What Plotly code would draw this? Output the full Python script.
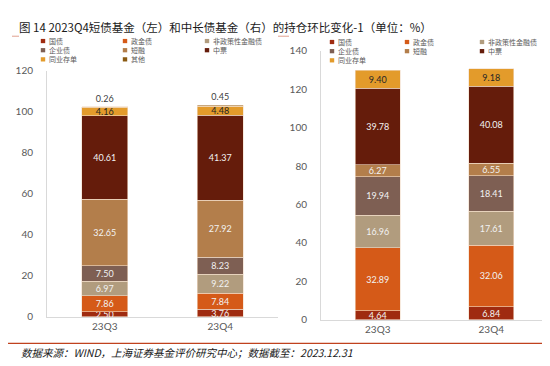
import plotly.graph_objects as go

W, H = 550, 366

categories = ["23Q3", "23Q4"]
left_series = ["国债", "政金债", "非政策性金融债", "企业债", "短融", "中票", "同业存单", "其他"]
left_values = {
    "国债": [2.50, 3.76],
    "政金债": [7.86, 7.84],
    "非政策性金融债": [6.97, 9.22],
    "企业债": [7.50, 8.23],
    "短融": [32.65, 27.92],
    "中票": [40.61, 41.37],
    "同业存单": [4.16, 4.48],
    "其他": [0.26, 0.45],
}
right_series = ["国债", "政金债", "非政策性金融债", "企业债", "短融", "中票", "同业存单"]
right_values = {
    "国债": [4.64, 6.84],
    "政金债": [32.89, 32.06],
    "非政策性金融债": [16.96, 17.61],
    "企业债": [19.94, 18.41],
    "短融": [6.27, 6.55],
    "中票": [39.78, 40.08],
    "同业存单": [9.40, 9.18],
}
left_ticks = [0, 20, 40, 60, 80, 100, 120]
right_ticks = [0, 20, 40, 60, 80, 100, 120, 140]

colors = {
    "国债": "#9F2B10",
    "政金债": "#D55A18",
    "非政策性金融债": "#B19C7E",
    "企业债": "#7E5F53",
    "短融": "#B37E4B",
    "中票": "#651C0B",
    "同业存单": "#E39B2B",
    "其他": "#8A5A12",
}
text_colors = {k: "#F2F2F2" for k in colors}
text_colors["同业存单"] = "#262626"
text_colors["其他"] = "#404040"

FONT = "Lato, 'Noto Sans CJK SC', sans-serif"
CJK = "'Noto Sans CJK SC', sans-serif"

fig = go.Figure()

for name in left_series:
    fig.add_trace(go.Bar(
        x=categories, y=left_values[name], name=name,
        marker=dict(color=colors[name], line=dict(width=0.6, color="#F2DCC8")),
        texttemplate="%{y:.2f}",
        textposition="outside" if name == "其他" else "inside",
        insidetextanchor="middle", textangle=0,
        textfont=dict(size=9, color=text_colors[name], family=FONT),
        cliponaxis=False, showlegend=False,
        xaxis="x", yaxis="y",
    ))

for name in right_series:
    fig.add_trace(go.Bar(
        x=categories, y=right_values[name], name=name,
        marker=dict(color=colors[name], line=dict(width=0.6, color="#F2DCC8")),
        texttemplate="%{y:.2f}",
        textposition="inside",
        insidetextanchor="middle", textangle=0,
        textfont=dict(size=9, color=text_colors[name], family=FONT),
        cliponaxis=False, showlegend=False,
        xaxis="x2", yaxis="y2",
    ))

def px_x(v):
    return v / W

def px_y(v):
    return 1 - v / H

axis_common = dict(showline=True, linecolor="#D9D9D9", linewidth=1, showgrid=False,
                   zeroline=False, ticks="", tickfont=dict(size=10, color="#595959", family=FONT))

fig.update_layout(
    width=W, height=H,
    margin=dict(l=0, r=0, t=0, b=0),
    paper_bgcolor="white", plot_bgcolor="white",
    barmode="stack", bargap=0.6,
    uniformtext=dict(minsize=9, mode="show"),
    xaxis=dict(domain=[px_x(39), px_x(270)], anchor="y", **axis_common),
    yaxis=dict(domain=[px_y(313), px_y(58)], anchor="x", range=[0, 120],
               tickvals=left_ticks, ticklabelstandoff=11, **axis_common),
    xaxis2=dict(domain=[px_x(313), px_x(540)], anchor="y2", **axis_common),
    yaxis2=dict(domain=[px_y(316), px_y(37)], anchor="x2", range=[0, 140],
                tickvals=right_ticks, ticklabelstandoff=11, **axis_common),
)

annotations = []
shapes = []

# title
annotations.append(dict(
    x=px_x(9), y=px_y(12), xref="paper", yref="paper", xanchor="left", yanchor="middle",
    text="图 14 2023Q4短债基金（左）和中长债基金（右）的持仓环比变化-1（单位：%）",
    showarrow=False, font=dict(size=11.5, color="#1a1a1a", family=CJK),
))
# footer
annotations.append(dict(
    x=px_x(11), y=px_y(350), xref="paper", yref="paper", xanchor="left", yanchor="middle",
    text="<i>数据来源：WIND，上海证券基金评价研究中心；数据截至：2023.12.31</i>",
    showarrow=False, font=dict(size=10.5, color="#1a1a1a", family=CJK),
))

line_color = "#C0421E"
for x0, x1 in [(4, 11), (270, 281), (544, 550)]:
    shapes.append(dict(type="line", xref="paper", yref="paper",
                       x0=px_x(x0), x1=px_x(x1), y0=px_y(22), y1=px_y(22),
                       line=dict(color="#E0A090", width=1)))
shapes.append(dict(type="line", xref="paper", yref="paper",
                   x0=0, x1=1, y0=px_y(340.5), y1=px_y(340.5),
                   line=dict(color=line_color, width=1.2)))

def add_legend(items, cols_x, rows_y):
    for i, name in enumerate(items):
        cx = cols_x[i % 3]
        cy = rows_y[i // 3]
        shapes.append(dict(type="rect", xref="paper", yref="paper",
                           x0=px_x(cx - 2.2), x1=px_x(cx + 2.2),
                           y0=px_y(cy + 2.2), y1=px_y(cy - 2.2),
                           fillcolor=colors[name], line=dict(width=0)))
        annotations.append(dict(
            x=px_x(cx + 4), y=px_y(cy), xref="paper", yref="paper",
            xanchor="left", yanchor="middle", text=name, showarrow=False,
            font=dict(size=7, color="#595959", family=CJK),
        ))

add_legend(left_series, [35, 117, 199], [27, 36.5, 46])
add_legend(right_series, [324, 399, 474], [28, 37.5, 47])

fig.update_layout(annotations=annotations, shapes=shapes)

fig.write_html("out.html")
